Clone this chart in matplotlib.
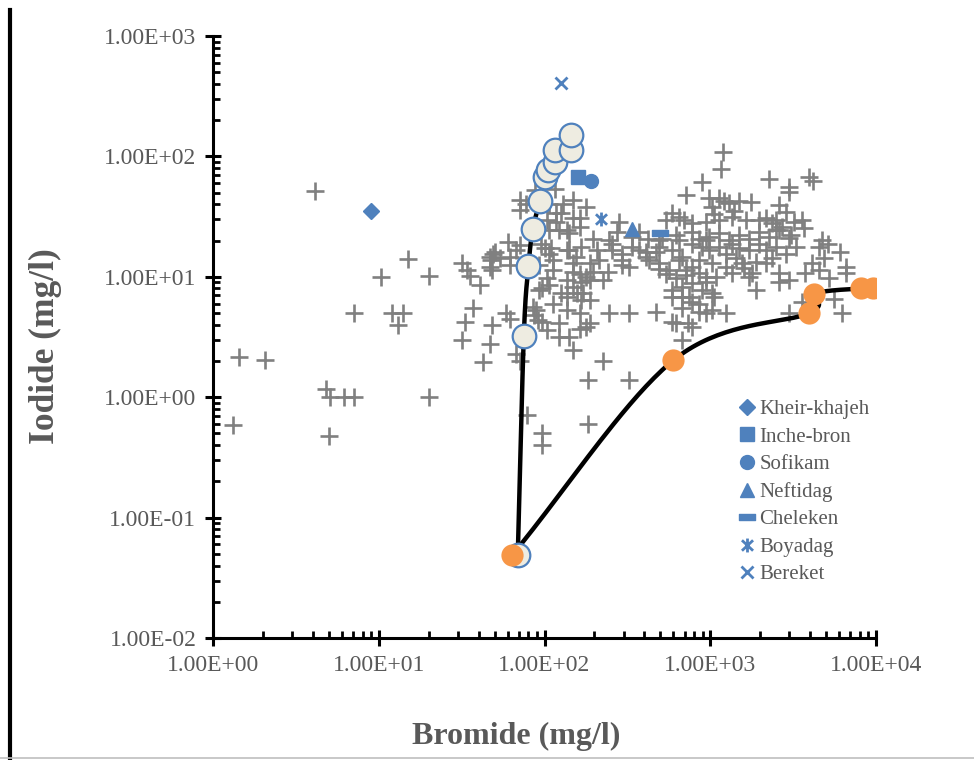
import matplotlib
matplotlib.use('Agg')
import matplotlib.pyplot as plt
import numpy as np
from matplotlib.path import Path
from matplotlib.lines import Line2D
from matplotlib.ticker import FuncFormatter, LogLocator

plt.rcParams['font.family'] = ['Liberation Serif', 'DejaVu Serif']

GRAY_TXT = '#595959'
BLUE = '#4F81BD'

# produced waters (gray crosses): bromide, iodide in mg/l
br_samples = [
    4.1, 15, 10.3, 20, 32, 34, 35.6, 41, 48.8, 47.6, 48.3, 7.1, 12.1, 14.1, 13.1,
    36.8, 33, 48, 32, 46.8, 42.6, 1.44, 2.05, 4.8, 5.1, 6.2, 7.1, 20, 1.32, 5.0,
    70.7, 70.7, 77.6, 107, 117, 129, 103, 117, 136, 107, 60, 70.7, 50, 46.6, 53.6,
    61.5, 46.6, 61.5, 95.6, 100, 107, 112, 97, 107, 125,
    148, 125, 163, 163, 283, 590, 543, 697, 780, 940, 1133, 1360, 1650, 2180, 2500,
    2720, 3210, 123, 141, 195, 272, 339, 373, 420, 514, 624, 650, 779, 859, 986,
    1133, 1300, 1495, 1718, 1974, 2268, 2605, 3050, 67, 109, 136, 167, 155, 206,
    214, 187, 246, 257, 295, 339, 373, 410, 493, 493, 590, 680, 779, 896, 986,
    1133, 1248, 1357, 1495, 1718, 1974, 2175, 2500, 2871, 3298, 81, 93, 112, 103,
    148, 148, 136, 148, 167, 179, 195, 156, 136, 167, 240, 295, 493, 543, 624,
    716, 779, 859, 1029, 1087, 1248, 1357, 1559, 1718, 2175, 2605, 2993, 590, 678,
    779, 896, 946, 1029, 1893, 2605, 747, 859, 946, 1029, 678, 624, 1248, 2993,
    678, 246, 325, 473, 182, 325, 224, 148, 123, 103, 89, 91, 93, 112, 136, 163,
    179, 58.5, 61.5, 67, 70.7,
    85, 87, 97, 123, 78, 97, 96, 184,
    896, 716, 986, 1029, 179, 148, 650, 946, 410, 470, 493, 429, 566, 650, 716,
    859, 946, 141, 163, 187, 224, 295, 257, 325,
    170, 187, 187, 163, 141, 590, 733, 779, 590, 678, 779, 859, 1050,
    1190, 1160, 2268, 3950, 4150, 2993, 2993, 1760, 1495, 1214, 2605, 2871, 1974,
    2370, 3600, 3685, 2500, 2993, 4750, 5100, 4540, 6070, 4860, 4120, 6590,
    1133, 1300, 1060, 1400,
    6240, 6590, 5211, 4536, 3750, 3600, 5600, 1791,
    1434, 1893, 2365, 1603, 88, 115,
]
i_samples = [
    52, 14, 9.9, 10.2, 12.9, 11.3, 10.1, 8.5, 15.6, 13.7, 11.3, 5.0, 5.0, 5.0, 4.0,
    5.5, 4.2, 4.0, 3.0, 2.75, 1.95, 2.16, 2.03, 1.16, 1.0, 1.0, 1.0, 1.0, 0.59, 0.48,
    43.3, 35.7, 40.6, 40.6, 33.6, 40.6, 29.5, 28.6, 24.4, 24.4, 19.5, 18.3, 16.1, 14.6, 14.2,
    14.6, 12.1, 12.5, 18.9, 17.2, 15.6, 13.7, 8.0, 8.5, 7.3,
    43.3, 33.6, 31, 26, 28.7, 33.6, 29.5, 29.5, 27.8, 28.6, 29.5, 31.5, 29.5, 30.5, 29.5,
    26, 28.6, 24.4, 22.9, 20.8, 23.5, 21.4, 23.5, 20.8, 20.8, 22.2, 20.1, 23.5, 20.8, 21.5,
    22.9, 20.1, 22.2, 20.8, 23.5, 21.5, 24.4, 22.2, 16.6, 17.2, 16.6, 17.7, 14.6, 16.6,
    13.7, 12.9, 20.1, 16.6, 15.6, 17.7, 16.6, 14.6, 17.7, 12.9, 16.6, 14.6, 18.9, 17.7, 16.6,
    17.7, 15.6, 18.9, 17.2, 16.6, 18.9, 16.6, 17.7, 15.6, 17.7, 13.7, 12.5, 11.3, 9.7,
    12.9, 11.0, 9.4, 8.2, 9.1, 10.0, 11.0, 7.3, 6.8, 6.4, 11.0, 12.5, 11.7, 10.6, 9.7,
    10.3, 12.1, 10.7, 12.9, 10.0, 12.1, 10.7, 12.9, 10.0, 12.9, 10.7, 9.4, 7.7, 8.2,
    8.8, 7.7, 9.1, 7.3, 7.7, 9.1, 6.8, 6.0, 5.0, 5.3, 5.5, 4.1, 5.0, 5.0,
    3.0, 5.0, 5.0, 5.1, 1.38, 1.38, 2.0, 2.45, 4.1, 3.6, 5.3, 4.4, 7.7, 6.0, 5.3, 5.0,
    3.8, 5.0, 4.5, 2.3, 2.0,
    5.6, 4.8, 4.2, 3.15, 0.71, 0.5, 0.4, 0.6,
    61.5, 47.6, 44.8, 38, 38, 30.6, 31.4, 20.1, 16, 16, 20.1, 13.7, 11.3, 13.7, 11.3,
    13.7, 10.0, 16.6, 10.6, 9.4, 9.4, 13.7, 18.9, 12.1,
    7.3, 6.4, 4.1, 3.7, 3.15, 4.2, 4.1, 3.8, 6.8, 6.8, 6.2, 5.1, 6.8,
    108, 79, 65, 67, 63, 56, 51, 42, 43, 43, 39.3, 34.5, 29.5,
    27.8, 29.5, 25.3, 24.4, 20.9, 20.1, 18.9, 17.7, 16.1, 14.2, 12.9, 12.1,
    45, 41, 33, 35,
    5.0, 10.7, 9.7, 11.3, 10.7, 6.2, 6.6, 10.7,
    14.3, 13.2, 14.3, 11.8, 53, 54,
]

# evaporation paths
br_seawater = [69, 75, 80, 85, 94, 100, 105, 116, 116, 145, 145]
i_seawater = [0.049, 3.2, 12.2, 25, 43, 68, 77, 90, 114, 114, 152]
br_halite = [64, 600, 3950, 4250, 8100, 9600]
i_halite = [0.049, 2.03, 5.0, 7.2, 8.0, 8.0]

# oil field waters (blue symbols)
fields = ['Kheir-khajeh', 'Inche-bron', 'Sofikam', 'Neftidag', 'Cheleken', 'Boyadag', 'Bereket']
br_fields = [9, 160, 190, 335, 500, 218, 125]
i_fields = [35, 67, 62, 25, 23, 30, 405]

dash = Path([(-1, -0.42), (1, -0.42), (1, 0.42), (-1, 0.42), (-1, -0.42)],
            [Path.MOVETO, Path.LINETO, Path.LINETO, Path.LINETO, Path.CLOSEPOLY])
aster = Path([(0, -1), (0, 1), (-0.8, -0.75), (0.8, 0.75), (-0.8, 0.75), (0.8, -0.75)],
             [Path.MOVETO, Path.LINETO] * 3)
field_styles = [
    dict(marker='D', ms=8),
    dict(marker='s', ms=10),
    dict(marker='o', ms=10),
    dict(marker='^', ms=10),
    dict(marker=dash, ms=11),
    dict(marker=aster, ms=10, mew=2, mfc='none'),
    dict(marker='x', ms=9, mew=2),
]


def smooth(xs, ys, n=40):
    # excel style smoothed line (catmull-rom in log space)
    lx, ly = np.log10(xs), np.log10(ys)
    px = np.concatenate([[2 * lx[0] - lx[1]], lx, [2 * lx[-1] - lx[-2]]])
    py = np.concatenate([[2 * ly[0] - ly[1]], ly, [2 * ly[-1] - ly[-2]]])
    outx, outy = [], []
    t = np.linspace(0, 1, n)
    for i in range(1, len(px) - 2):
        for p, out in ((px, outx), (py, outy)):
            p0, p1, p2, p3 = p[i - 1], p[i], p[i + 1], p[i + 2]
            out.extend(0.5 * (2 * p1 + (-p0 + p2) * t + (2 * p0 - 5 * p1 + 4 * p2 - p3) * t ** 2
                              + (-p0 + 3 * p1 - 3 * p2 + p3) * t ** 3))
    return 10 ** np.array(outx), 10 ** np.array(outy)


fig = plt.figure(figsize=(9.74, 7.6), dpi=100)
ax = fig.add_axes([213 / 974, 1 - 638 / 760, 663 / 974, 602 / 760])
ax.set_xscale('log')
ax.set_yscale('log')
ax.set_xlim(1, 1e4)
ax.set_ylim(1e-2, 1e3)

ax.plot(br_samples, i_samples, ls='none', marker='+', ms=13, mew=1.9, color='#808080', zorder=2)

sx, sy = smooth(br_seawater, i_seawater)
ax.plot(sx, sy, color='black', lw=3.2, zorder=3, solid_capstyle='round')
hx, hy = smooth(br_halite, i_halite)
ax.plot(hx, hy, color='black', lw=3.2, zorder=3, solid_capstyle='round')

ax.plot(br_seawater, i_seawater, ls='none', marker='o', ms=17, mfc='#EEECE1', mec=BLUE, mew=1.6, zorder=4)
ax.plot(br_halite, i_halite, ls='none', marker='o', ms=16, mfc='#F79646', mec='#F79646', mew=0, zorder=5)

for name, bx, iy, st in zip(fields, br_fields, i_fields, field_styles):
    ax.plot([bx], [iy], ls='none', color=BLUE, label=name, zorder=6, **st)

leg = ax.legend(loc='upper left', bbox_to_anchor=(0.783, 0.41), frameon=False, fontsize=15,
                handlelength=0.6, handletextpad=0.3, labelspacing=0.38, borderaxespad=0)
for t in leg.get_texts():
    t.set_color(GRAY_TXT)

for side in ('top', 'right'):
    ax.spines[side].set_visible(False)
for side in ('left', 'bottom'):
    ax.spines[side].set_linewidth(2.2)

fmt = FuncFormatter(lambda v, pos: f'{v:.2E}')
ax.xaxis.set_major_locator(LogLocator(base=10, numticks=10))
ax.yaxis.set_major_locator(LogLocator(base=10, numticks=10))
ax.xaxis.set_minor_locator(LogLocator(base=10, subs=np.arange(2, 10), numticks=10))
ax.yaxis.set_minor_locator(LogLocator(base=10, subs=np.arange(2, 10), numticks=10))
ax.xaxis.set_major_formatter(fmt)
ax.yaxis.set_major_formatter(fmt)
ax.xaxis.set_minor_formatter(FuncFormatter(lambda v, pos: ''))
ax.yaxis.set_minor_formatter(FuncFormatter(lambda v, pos: ''))
ax.tick_params(which='major', direction='inout', length=12, width=2.2, labelsize=17,
               labelcolor=GRAY_TXT, pad=6)
ax.tick_params(which='minor', direction='in', length=5, width=2)

fig.text(516 / 974, 1 - 736 / 760, 'Bromide (mg/l)', ha='center', va='center',
         fontsize=23, fontweight='bold', color=GRAY_TXT)
fig.text(45 / 974, 1 - 346 / 760, 'Iodide (mg/l)', ha='center', va='center', rotation=90,
         fontsize=25.5, fontweight='bold', color=GRAY_TXT)

# page border lines of the source document
fig.add_artist(Line2D([10 / 974, 10 / 974], [0, 1 - 10 / 760], transform=fig.transFigure,
                      color='black', lw=3))
fig.add_artist(Line2D([0, 1], [1 - 758 / 760, 1 - 758 / 760], transform=fig.transFigure,
                      color='#BFBFBF', lw=1.2))

fig.savefig('out.png', dpi=100, facecolor='white')
